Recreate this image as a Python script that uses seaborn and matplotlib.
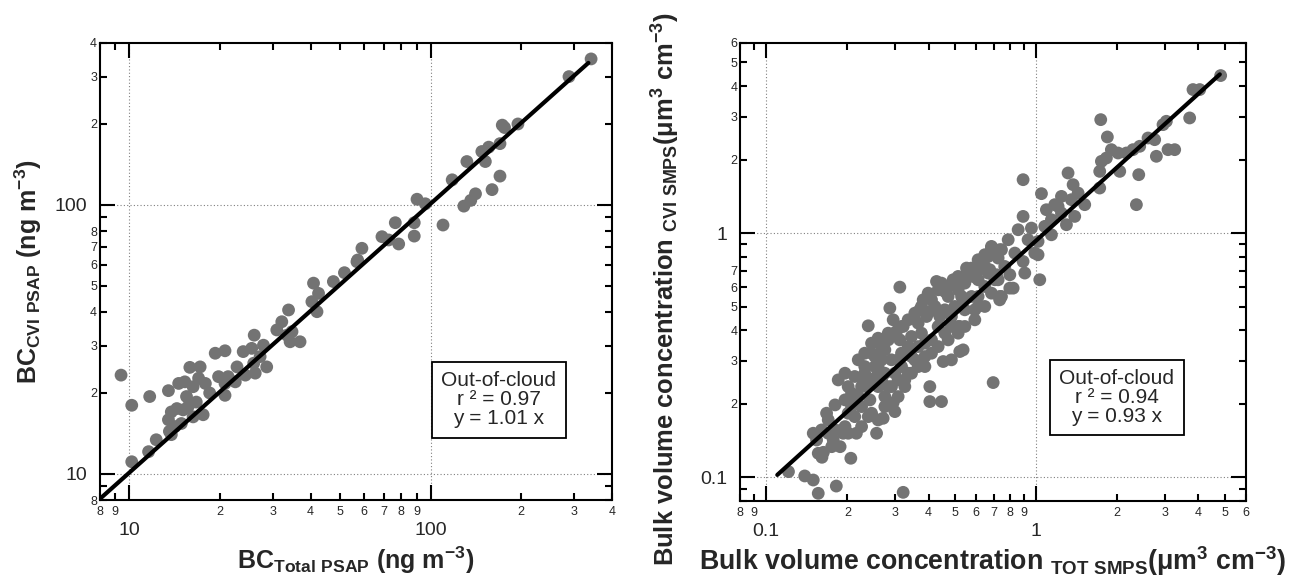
import numpy as np
import pandas as pd
import matplotlib
matplotlib.use("Agg")
import matplotlib.pyplot as plt
import matplotlib.ticker as mticker
import seaborn as sns

# Left panel: black carbon, total inlet vs CVI (ng m-3)
bc_total = [9.4, 10.2, 11.7, 10.2, 11.6, 12.3, 13.5, 13.6, 13.5, 13.8, 14.6, 14.4, 14.9, 13.8,
            15.3, 15.9, 15.5, 15.7, 16.3, 17.0, 17.2, 16.7, 17.6, 17.9, 16.3, 19.3, 20.8, 18.5,
            19.8, 20.8, 21.3, 20.8, 22.8, 22.5, 23.9, 24.3, 25.5, 26.0, 25.9, 26.2, 27.9, 27.2,
            28.6, 30.9, 32.1, 33.8, 33.4, 34.7, 36.9, 34.2, 40.9, 42.5, 40.4, 42.0, 47.6, 51.8,
            57.0, 15.1, 14.2, 57.3, 59.2, 69.0, 72.6, 78.4, 76.4, 88.3, 88.3, 90.2, 96.1, 110,
            118, 129, 136, 141, 132, 152, 148, 156, 160, 170, 170, 173, 176, 195, 288, 341]
bc_cvi = [23.3, 18.0, 19.4, 11.1, 12.1, 13.4, 20.4, 14.4, 15.9, 17.0, 21.7, 17.5, 15.4, 14.0,
          22.0, 24.9, 19.4, 17.8, 21.1, 22.7, 25.0, 18.5, 16.6, 21.7, 16.3, 28.1, 28.7, 20.0,
          23.0, 19.6, 23.0, 21.7, 25.0, 22.0, 28.5, 23.3, 29.3, 32.8, 25.8, 23.7, 30.1, 27.3,
          25.0, 34.3, 36.8, 40.7, 32.8, 33.8, 31.0, 31.0, 51.2, 46.9, 43.7, 40.1, 51.9, 56.0,
          61.5, 17.3, 15.0, 62.4, 69.0, 76.2, 74.1, 71.6, 85.9, 85.9, 76.6, 105, 101, 84.2,
          124, 99, 104, 110, 145, 145, 158, 164, 114, 128, 169, 198, 194, 200, 300, 349]
bc_fit_x = [8, 334]
bc_slope = 1.01
bc_note = "Out-of-cloud\nr ² = 0.97\ny = 1.01 x"

# Right panel: bulk volume concentration, total vs CVI (um3 cm-3)
vol_tot = [0.121, 0.139, 0.1495, 0.156, 0.182, 0.322, 0.161, 0.206, 0.163, 0.1495, 0.1605, 0.175,
           0.188, 0.193, 0.216, 0.196, 0.1675, 0.180, 0.216, 0.213, 0.185, 0.196, 0.2195, 0.2355,
           0.2424, 0.2566, 0.260, 0.2715, 0.300, 0.2957, 0.2754, 0.239, 0.260, 0.2459, 0.2754,
           0.2874, 0.2957, 0.313, 0.313, 0.3175, 0.336, 0.3266, 0.3457, 0.366, 0.382, 0.410, 0.393,
           0.422, 0.3876, 0.4043, 0.4043, 0.4466, 0.428, 0.4594, 0.4727, 0.4932, 0.453, 0.486,
           0.522, 0.5148, 0.5449, 0.5768, 0.5935, 0.6105, 0.6461, 0.684, 0.694, 0.724, 0.734, 0.745,
           0.3457, 0.366, 0.410, 0.300, 0.2754, 0.253, 0.232, 0.2014, 0.2915, 0.4594, 0.486, 0.5449,
           0.6461, 0.6105, 0.530, 0.3764, 0.434, 0.3266, 0.260, 0.2195, 0.156, 0.1773,
           0.2459, 0.2677, 0.2835, 0.3041, 0.322, 0.336, 0.3557, 0.3712, 0.4043, 0.4403, 0.4594,
           0.5003, 0.5372, 0.5768, 0.6105, 0.6461, 0.6745, 0.6105, 0.5607, 0.5148, 0.4466, 0.3175,
           0.3085, 0.2835, 0.2566, 0.2291, 0.2073, 0.2014, 0.1904, 0.1699, 0.1538,
           0.553, 0.585, 0.646, 0.734, 0.714, 0.734, 0.619, 0.522, 0.537, 0.522, 0.745, 0.80,
           0.196, 0.2073, 0.2258, 0.213, 0.232, 0.253, 0.2677, 0.2835, 0.300, 0.3175, 0.336, 0.3557,
           0.3764, 0.3986, 0.434, 0.4727, 0.5148, 0.5607, 0.6105, 0.665, 0.2073, 0.2258, 0.2459,
           0.2754, 0.3085, 0.3266, 0.3457, 0.366, 0.3876, 0.410, 0.434, 0.4727, 0.5148, 0.5449,
           0.5935, 0.6461, 0.684, 0.2459, 0.2677, 0.2915, 0.232, 0.260, 0.3085, 0.3876, 0.486,
           0.1699, 0.180, 0.2014, 0.2258, 0.239,
           4.836, 3.819, 4.044, 3.712, 3.042, 2.957, 2.754, 2.602, 2.424, 2.289, 2.163, 2.015,
           1.903, 1.824, 1.748, 1.723, 2.044, 2.404, 3.086, 3.267, 2.794, 1.738, 1.839, 2.356,
           1.723, 1.315, 1.373, 1.048, 1.243, 1.516, 1.174, 1.093, 1.392, 1.297, 1.141, 0.896,
           0.896, 0.859, 0.962, 1.018, 1.033, 1.018, 0.896, 0.823, 0.734, 0.800, 0.724, 0.789,
           0.684, 0.665, 1.078, 1.243,
           0.935, 0.990, 1.141, 1.208, 1.353, 1.433, 0.835, 0.766, 0.909, 0.704]
vol_cvi = [0.1055, 0.1013, 0.0975, 0.086, 0.0921, 0.0868, 0.1208, 0.1197, 0.1266, 0.1515, 0.1563,
           0.1335, 0.1335, 0.1515, 0.1515, 0.1613, 0.183, 0.1979, 0.2011, 0.1772, 0.2505, 0.2668,
           0.3027, 0.2352, 0.2075, 0.1515, 0.1718, 0.1745, 0.1858, 0.2023, 0.2141, 0.4172, 0.3712,
           0.3222, 0.3325, 0.4928, 0.4414, 0.6007, 0.3654, 0.2841, 0.2668, 0.2352, 0.3772, 0.4278,
           0.5329, 0.5329, 0.4555, 0.5006, 0.3122, 0.2352, 0.2042, 0.2042, 0.6336, 0.4851, 0.55,
           0.6438, 0.2979, 0.3027, 0.3273, 0.4146, 0.6238, 0.7186, 0.4851, 0.55, 0.8153, 0.8818,
           0.2443, 0.6438, 0.5329, 0.8546, 0.3122, 0.343, 0.3654, 0.2668, 0.2668, 0.2841, 0.2668,
           0.2352, 0.3027, 0.3892, 0.4555, 0.4851, 0.7302, 0.6438, 0.55, 0.3892, 0.4146, 0.3222,
           0.2352, 0.2141, 0.1254, 0.1422,
           0.3541, 0.3027, 0.3892, 0.3954, 0.4146, 0.343, 0.3027, 0.4851, 0.4775, 0.4555, 0.5766,
           0.5006, 0.5329, 0.55, 0.5006, 0.6044, 0.7074, 0.7074, 0.6644, 0.5858, 0.6238, 0.3222,
           0.2505, 0.2352, 0.2587, 0.2505, 0.2075, 0.183, 0.1563, 0.1515, 0.1422,
           0.719, 0.664, 0.802, 0.855, 0.675, 0.55, 0.730, 0.624, 0.3325, 0.4145, 0.55, 0.595,
           0.2075, 0.2208, 0.2352, 0.2587, 0.2841, 0.3122, 0.343, 0.3654, 0.3892, 0.4146, 0.4414,
           0.47, 0.5006, 0.5675, 0.5858, 0.6044, 0.6644, 0.7074, 0.7775, 0.802, 0.1948, 0.1948,
           0.183, 0.1948, 0.2141, 0.2505, 0.2668, 0.2841, 0.2841, 0.3222, 0.343, 0.3654, 0.3892,
           0.4146, 0.4414, 0.5006, 0.5675, 0.2505, 0.2505, 0.2352, 0.3222, 0.2841, 0.3027, 0.3541,
           0.4146, 0.1718, 0.1563, 0.1515, 0.1613, 0.1772,
           4.414, 3.868, 3.868, 2.96, 2.868, 2.779, 2.412, 2.45, 2.266, 2.195, 2.127, 2.127,
           2.195, 2.029, 1.966, 1.789, 1.789, 1.734, 2.195, 2.195, 2.062, 2.913, 2.474, 1.307,
           1.529, 1.762, 1.578, 1.45, 1.413, 1.307, 1.307, 1.246, 1.17, 1.082, 0.984, 1.654,
           1.17, 1.032, 1.048, 0.924, 0.644, 0.815, 0.765, 0.595, 0.5415, 0.675, 0.790, 0.939,
           0.868, 0.686, 1.065, 1.207,
           0.939, 0.828, 1.134, 1.286, 1.37, 1.458, 0.828, 0.730, 0.686, 0.644]
vol_fit_x = [0.11, 4.8]
vol_slope = 0.93
vol_note = "Out-of-cloud\nr ² = 0.94\ny = 0.93 x"

POINT_COLOR = "#737373"


def minor_labels(hidden):
    def fmt(v, pos):
        exp = np.floor(np.log10(v) + 1e-9)
        mant = int(round(v / 10 ** exp))
        if mant == 1 or mant in hidden:
            return ""
        return str(mant)
    return fmt


def style_log_axes(ax, xlim, ylim, hide_x, hide_y):
    ax.set_xscale("log")
    ax.set_yscale("log")
    ax.set_xlim(*xlim)
    ax.set_ylim(*ylim)
    for axis, hidden in ((ax.xaxis, hide_x), (ax.yaxis, hide_y)):
        axis.set_major_locator(mticker.LogLocator(base=10, numticks=10))
        axis.set_minor_locator(mticker.LogLocator(base=10, subs=np.arange(2, 10), numticks=30))
        axis.set_major_formatter(mticker.FuncFormatter(lambda v, p: f"{v:g}"))
        axis.set_minor_formatter(mticker.FuncFormatter(minor_labels(hidden)))
    ax.tick_params(which="both", direction="in", top=True, right=True, width=1.5, color="black")
    ax.tick_params(which="major", length=11)
    ax.tick_params(which="minor", length=5)
    ax.tick_params(axis="x", which="major", pad=16, labelsize=14)
    ax.tick_params(axis="x", which="minor", pad=4.5, labelsize=9)
    ax.tick_params(axis="y", which="major", pad=9, labelsize=14)
    ax.tick_params(axis="y", which="minor", pad=2, labelsize=9)
    ax.set_axisbelow(True)
    ax.grid(True, which="major", color="0.5", linestyle=(0, (1, 2)), linewidth=0.8)
    ax.grid(False, which="minor")
    for spine in ax.spines.values():
        spine.set_linewidth(1.5)
        spine.set_color("black")


def draw_panel(ax, x, y, fit_x, slope, note, note_pos):
    df = pd.DataFrame({"x": x, "y": y})
    sns.scatterplot(data=df, x="x", y="y", ax=ax, s=85, color=POINT_COLOR,
                    edgecolor="none", linewidth=0, zorder=3)
    fit = pd.DataFrame({"x": fit_x, "y": [slope * v for v in fit_x]})
    sns.lineplot(data=fit, x="x", y="y", ax=ax, color="black", linewidth=3, zorder=4)
    ax.text(note_pos[0], note_pos[1], note, transform=ax.transAxes, ha="center", va="center",
            fontsize=15, linespacing=1.0, multialignment="center", zorder=5,
            bbox=dict(boxstyle="square,pad=0.45", fc="white", ec="black", lw=1.3))


sns.set_style("ticks")
plt.rcParams["font.family"] = ["Liberation Sans", "DejaVu Sans"]
plt.rcParams["mathtext.default"] = "regular"

fig = plt.figure(figsize=(12.93, 5.81), dpi=100)
ax1 = fig.add_axes([0.0773, 0.1394, 0.396, 0.7866])
ax2 = fig.add_axes([0.5723, 0.1377, 0.3913, 0.7883])

draw_panel(ax1, bc_total, bc_cvi, bc_fit_x, bc_slope, bc_note, (0.779, 0.219))
style_log_axes(ax1, (8, 400), (8, 400), hide_x=set(), hide_y={9})
ax1.set_xlabel(r"BC$_{Total\ PSAP}$ (ng m$^{-3}$)", fontsize=18, fontweight="bold", labelpad=4)
ax1.set_ylabel(r"BC$_{CVI\ PSAP}$ (ng m$^{-3}$)", fontsize=18, fontweight="bold", labelpad=8)

draw_panel(ax2, vol_tot, vol_cvi, vol_fit_x, vol_slope, vol_note, (0.745, 0.226))
style_log_axes(ax2, (0.08, 6), (0.08, 6), hide_x=set(), hide_y={8, 9})
ax2.set_xlabel(r"Bulk volume concentration $_{TOT\ SMPS}$(μm$^{3}$ cm$^{-3}$)",
               fontsize=19.3, fontweight="bold", labelpad=3)
# the long y label nearly fills the figure height, as in the original
ax2.set_ylabel(r"Bulk volume concentration $_{CVI\ SMPS}$(μm$^{3}$ cm$^{-3}$)",
               fontsize=18.4, fontweight="bold")
ax2.yaxis.set_label_coords(-0.115, 0.462)

fig.savefig("out.png", dpi=100)
